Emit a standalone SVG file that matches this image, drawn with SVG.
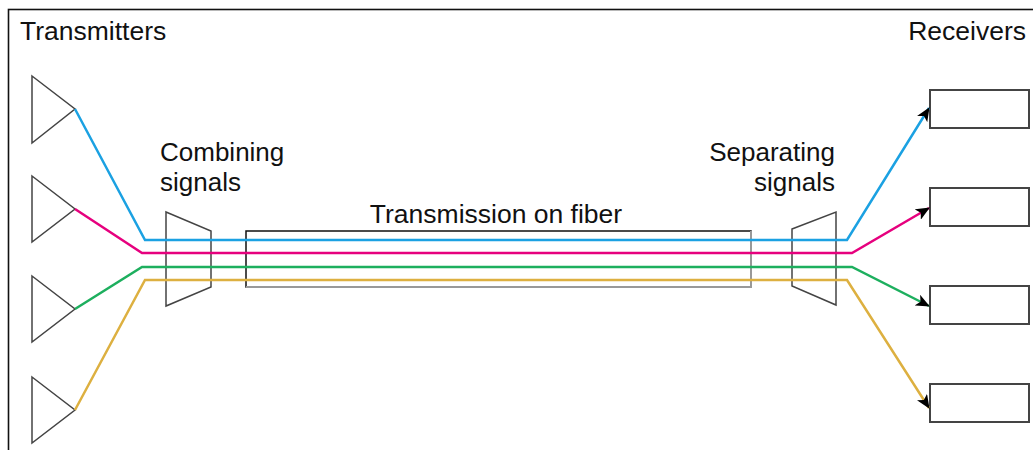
<svg xmlns="http://www.w3.org/2000/svg" width="1033" height="450" viewBox="0 0 1033 450">
  <style>
    .lbl { font-family: "Liberation Sans", Arial, sans-serif; font-size: 26.5px; fill: #111; }
    .two { font-size: 26px; }
    .tx { fill: #fff; stroke: #444; stroke-width: 1.5; stroke-linejoin: miter; }
    .rx { fill: #fff; stroke: #444; stroke-width: 2; }
    .mux { fill: none; stroke: #444; stroke-width: 1.5; }
    .sig { fill: none; stroke-width: 2.5; stroke-linejoin: miter; }
  </style>
  <defs>
    <marker id="arr" viewBox="0 0 14 12" refX="13" refY="6" markerWidth="14" markerHeight="12" markerUnits="userSpaceOnUse" orient="auto">
      <path d="M0,0 L14,6 L0,12 L3.5,6 Z" fill="#000"/>
    </marker>
  </defs>
  <rect x="0" y="0" width="1033" height="450" fill="#fff"/>
  <rect id="frame" x="8.5" y="9.5" width="1040" height="460" fill="none" stroke="#111" stroke-width="1.6"/>

  <text class="lbl" x="20" y="40">Transmitters</text>
  <text class="lbl" x="1026" y="40" text-anchor="end">Receivers</text>

  <g id="tx1"><polygon class="tx" points="32,76 75,109 32,143"/></g>
  <g id="tx2"><polygon class="tx" points="32,176 75,209 32,242"/></g>
  <g id="tx3"><polygon class="tx" points="32,276 75,309 32,342"/></g>
  <g id="tx4"><polygon class="tx" points="32,377 75,410 32,443"/></g>

  <g id="combiner">
    <polygon class="mux" points="166,212 211,231 211,287 166,306"/>
    <text class="lbl two" x="160" y="161">Combining</text>
    <text class="lbl two" x="160" y="190.5">signals</text>
  </g>

  <g id="fiber">
    <rect x="246" y="231" width="505" height="56" fill="none" stroke="#111" stroke-width="1.5"/>
    <path d="M751,231 L751,287 L246,287" fill="none" stroke="#999" stroke-width="2"/>
    <text class="lbl" x="496" y="223" text-anchor="middle" font-size="27">Transmission on fiber</text>
  </g>

  <g id="separator">
    <polygon class="mux" points="792,229 836,212 836,305 792,286"/>
    <text class="lbl two" x="835" y="161" text-anchor="end">Separating</text>
    <text class="lbl two" x="835" y="190.5" text-anchor="end">signals</text>
  </g>

  <g id="rx1"><rect class="rx" x="930" y="90" width="99" height="38"/></g>
  <g id="rx2"><rect class="rx" x="930" y="188" width="99" height="38"/></g>
  <g id="rx3"><rect class="rx" x="930" y="286" width="99" height="38"/></g>
  <g id="rx4"><rect class="rx" x="930" y="384" width="99" height="38"/></g>

  <g id="connectors">
    <polyline class="sig" stroke="#1BA1E2" points="75,109 145,240 847,240 929,108" marker-end="url(#arr)"/>
    <polyline class="sig" stroke="#E6007E" points="75,209 142,253 852,253 929,208" marker-end="url(#arr)"/>
    <polyline class="sig" stroke="#1DAF5E" points="75,309 142,267 852,267 929,306" marker-end="url(#arr)"/>
    <polyline class="sig" stroke="#DDB040" points="75,410 145,280 847,280 929,408" marker-end="url(#arr)"/>
  </g>
</svg>
